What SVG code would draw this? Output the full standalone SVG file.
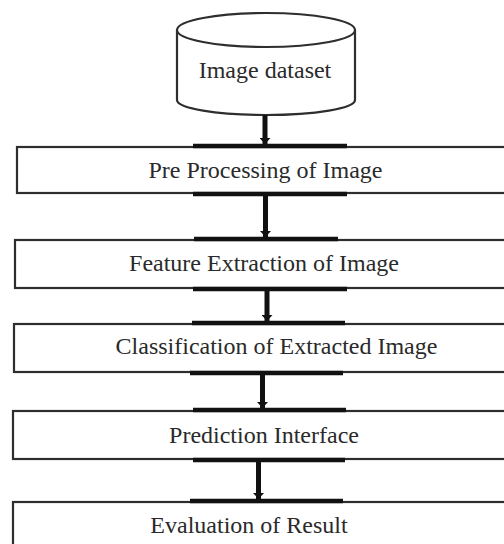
<svg xmlns="http://www.w3.org/2000/svg" width="504" height="544" viewBox="0 0 504 544">
<defs>
<style>
.box{fill:#fff;stroke:#2e2e2e;stroke-width:2.2}
.bar{stroke:#111;stroke-width:4.5;stroke-linecap:butt}
.lbl{font-family:'Liberation Serif','Times New Roman','DejaVu Serif',serif;font-size:24px;fill:#2a2a2a;text-anchor:middle}
.conn{stroke:#111;stroke-width:5;fill:none}
</style>
<marker id="ah" markerUnits="userSpaceOnUse" markerWidth="6" markerHeight="11" refX="6" refY="5.5" orient="auto" viewBox="0 0 6 11">
<path d="M0,0 L6,5.5 L0,11 Z" fill="#111"/>
</marker>
</defs>
<rect width="504" height="544" fill="#fff"/>
<g id="dataset">
<path class="box" d="M177,30 L177,100 A89,15 0 0 0 355,100 L355,30"/>
<ellipse class="box" cx="266" cy="30" rx="89" ry="17"/>
<text class="lbl" x="265" y="78" font-family="Liberation Serif, serif">Image dataset</text>
</g>
<g id="preprocessing">
<rect class="box" x="17" y="147" width="510" height="46"/>
<line class="bar" x1="193" y1="146" x2="347" y2="146"/>
<line class="bar" x1="193" y1="194" x2="347" y2="194"/>
<text class="lbl" x="265.5" y="178">Pre Processing of Image</text>
</g>
<g id="feature">
<rect class="box" x="15" y="240" width="510" height="48"/>
<line class="bar" x1="194" y1="239" x2="338" y2="239"/>
<line class="bar" x1="193" y1="289" x2="347" y2="289"/>
<text class="lbl" x="264" y="271">Feature Extraction of Image</text>
</g>
<g id="classification">
<rect class="box" x="14" y="324" width="510" height="48"/>
<line class="bar" x1="192" y1="323" x2="345" y2="323"/>
<line class="bar" x1="190" y1="373" x2="343" y2="373"/>
<text class="lbl" x="276.5" y="354">Classification of Extracted Image</text>
</g>
<g id="prediction">
<rect class="box" x="13" y="411" width="510" height="48"/>
<line class="bar" x1="193" y1="410" x2="346" y2="410"/>
<line class="bar" x1="193" y1="460" x2="345" y2="460"/>
<text class="lbl" x="264" y="443">Prediction Interface</text>
</g>
<g id="evaluation">
<rect class="box" x="13" y="502" width="510" height="60"/>
<line class="bar" x1="190" y1="501" x2="343" y2="501"/>
<text class="lbl" x="249" y="533">Evaluation of Result</text>
</g>
<g id="connectors">
<line class="conn" x1="265" y1="115" x2="265" y2="144" marker-end="url(#ah)"/>
<line class="conn" x1="265.5" y1="196" x2="265.5" y2="237" marker-end="url(#ah)"/>
<line class="conn" x1="267" y1="291" x2="267" y2="321" marker-end="url(#ah)"/>
<line class="conn" x1="262.5" y1="375" x2="262.5" y2="408" marker-end="url(#ah)"/>
<line class="conn" x1="258.5" y1="462" x2="258.5" y2="499" marker-end="url(#ah)"/>
</g>
</svg>
